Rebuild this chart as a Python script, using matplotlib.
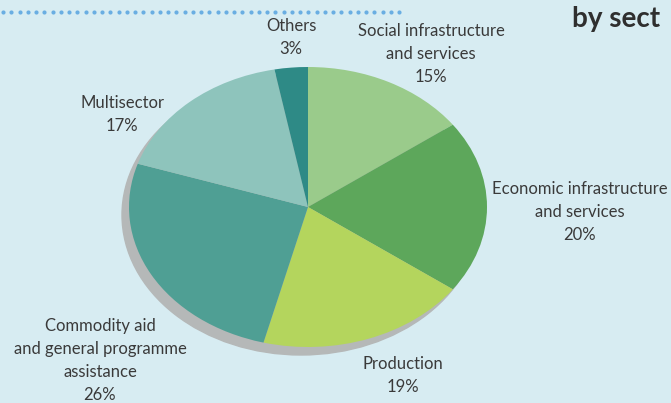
import numpy as np
import matplotlib.pyplot as plt
from matplotlib.patches import Ellipse

# ODA by sector, shares in percent, clockwise from the top
sectors = ["Social infrastructure\nand services",
           "Economic infrastructure\nand services",
           "Production",
           "Commodity aid\nand general programme\nassistance",
           "Multisector",
           "Others"]
shares = [15, 20, 19, 26, 17, 3]
slice_colors = ["#9acb8b", "#5da75b", "#b4d55d", "#4f9f94", "#8ec4bc", "#2e8a86"]

# label anchors in pixel coords (centre x, top y)
label_xy = [(431, 23), (580, 181), (403, 356), (100, 318), (122, 95), (291, 18)]

bg_color = "#d7ecf2"
text_color = "#3a3a3a"
W, H = 671, 403

fig = plt.figure(figsize=(W / 100, H / 100), dpi=100)
fig.patch.set_facecolor(bg_color)

base = fig.add_axes([0, 0, 1, 1])
base.set_xlim(0, W)
base.set_ylim(H, 0)
base.axis("off")

# dotted rule and the cut-off heading at the top
dots_x = np.arange(3, 400, 8.25)
base.scatter(dots_x, np.full_like(dots_x, 12), s=9, color="#6aaee2", linewidths=0)
base.text(572, 27, "by sect", fontsize=20, fontweight="bold", color="#2f2f2f",
          family="Lato", ha="left", va="baseline")

# elliptical pie: centre (308, 207), radii 179 x 140 px
cx, cy, rx, ry = 308, 207, 179, 140
pie_ax = fig.add_axes([(cx - rx) / W, (H - cy - ry) / H, 2 * rx / W, 2 * ry / H])
pie_ax.add_patch(Ellipse((-7 / rx, -8 / ry), 2, 2, color="#b5b8b8", zorder=0,
                         clip_on=False))
wedges, _ = pie_ax.pie(shares, colors=slice_colors, startangle=90,
                       counterclock=False, radius=1, wedgeprops=dict(linewidth=0))
for w in wedges:
    w.set_clip_on(False)
pie_ax.set_aspect("auto")
pie_ax.set_xlim(-1, 1)
pie_ax.set_ylim(-1, 1)
pie_ax.axis("off")

for name, pct, (x, y) in zip(sectors, shares, label_xy):
    base.text(x, y, f"{name}\n{pct}%", ha="center", va="top", fontsize=12,
              family="Lato", fontweight="normal", color=text_color, linespacing=1.55)

fig.savefig("out.png", dpi=100, facecolor=fig.get_facecolor())
